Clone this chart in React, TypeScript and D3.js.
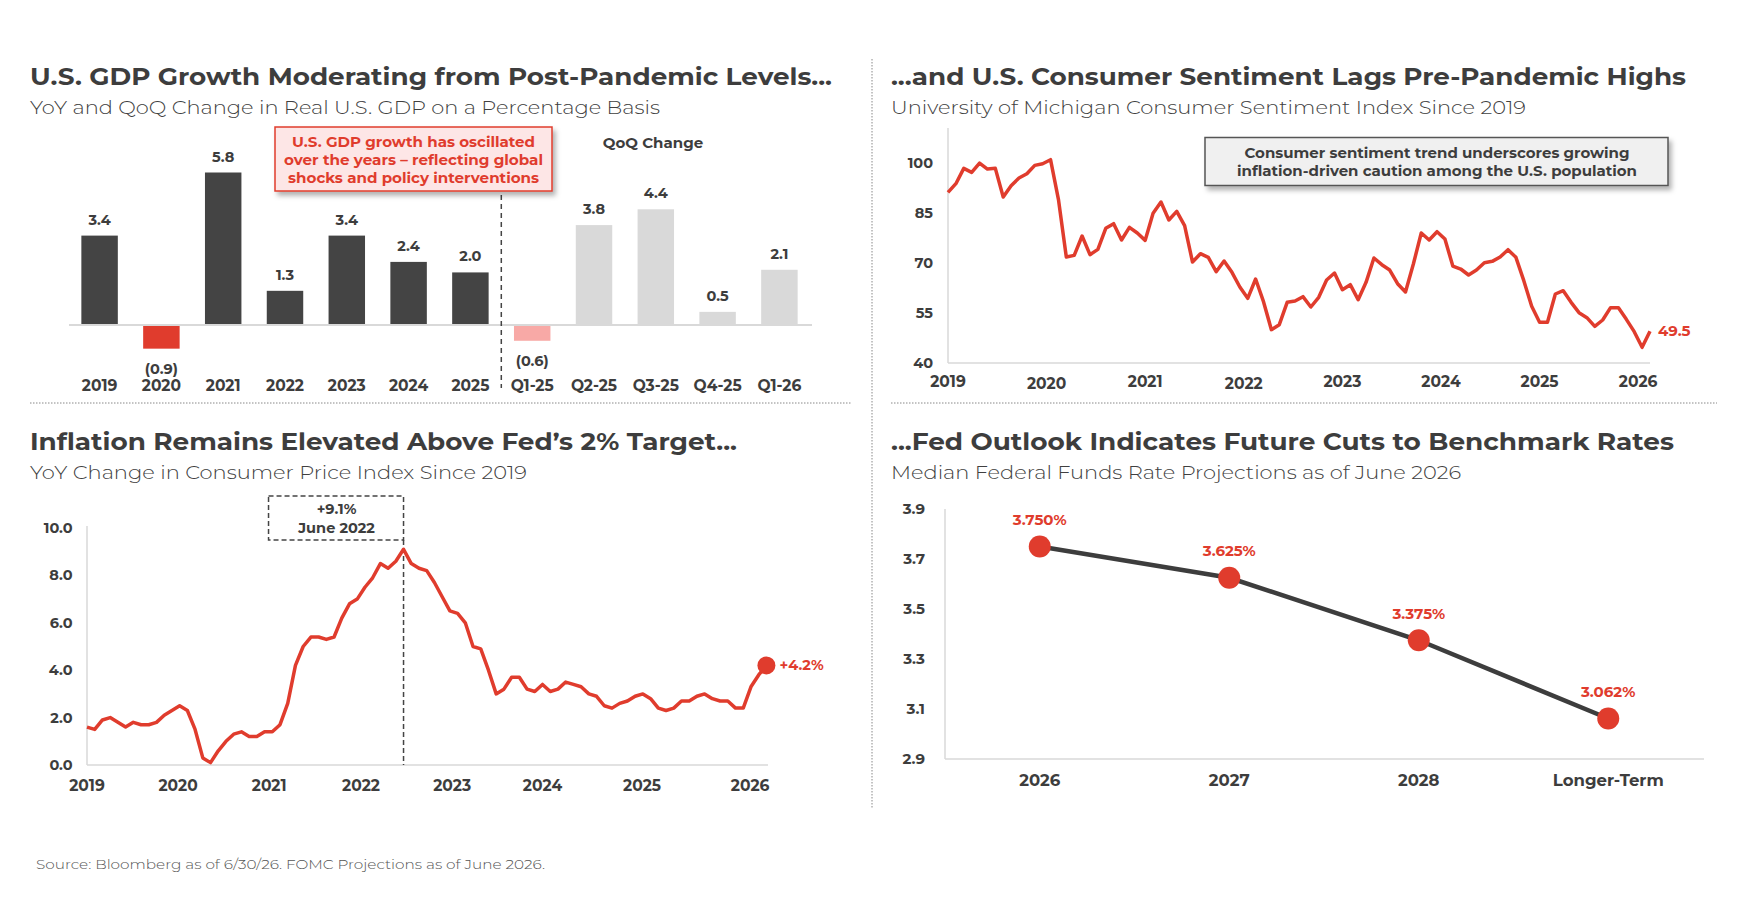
import * as d3 from 'd3';

const FONT = "Montserrat, Inter, 'Open Sans', sans-serif";
const RED = '#e03c2d';
const INK = '#3d3d3d';
const AXIS = '#d9d9d9';

// ---- GDP panel data
const gdpCategories = ['2019', '2020', '2021', '2022', '2023', '2024', '2025', 'Q1-25', 'Q2-25', 'Q3-25', 'Q4-25', 'Q1-26'];
const gdpValues = [3.4, -0.9, 5.8, 1.3, 3.4, 2.4, 2.0, -0.6, 3.8, 4.4, 0.5, 2.1];
const gdpKind = ['YoY', 'YoY', 'YoY', 'YoY', 'YoY', 'YoY', 'YoY', 'QoQ', 'QoQ', 'QoQ', 'QoQ', 'QoQ'];
const gdpNote = ['U.S. GDP growth has oscillated', 'over the years – reflecting global', 'shocks and policy interventions'];

// ---- Consumer sentiment, monthly Jan 2019 .. Jun 2026
const sentimentValues = [
  91.2, 93.8, 98.4, 97.2, 100.0, 98.2, 98.4, 89.8, 93.2, 95.5, 96.8, 99.3,
  99.8, 101.0, 89.1, 71.8, 72.3, 78.1, 72.5, 74.1, 80.4, 81.8, 76.9, 80.7,
  79.0, 76.8, 84.9, 88.3, 82.9, 85.5, 81.2, 70.3, 72.8, 71.7, 67.4, 70.6,
  67.2, 62.8, 59.4, 65.2, 58.4, 50.0, 51.5, 58.2, 58.6, 59.9, 56.8, 59.7,
  64.9, 67.0, 62.0, 63.5, 59.0, 64.2, 71.5, 69.5, 67.9, 63.8, 61.3, 69.7,
  79.0, 76.9, 79.4, 77.2, 69.1, 68.2, 66.4, 67.9, 70.1, 70.5, 71.8, 74.0,
  71.7, 64.7, 57.0, 52.2, 52.2, 60.7, 61.7, 58.2, 55.1, 53.6, 51.0, 52.9,
  56.6, 56.6, 53.1, 49.4, 44.7, 49.5,
];
const sentimentYears = ['2019', '2020', '2021', '2022', '2023', '2024', '2025', '2026'];
const sentimentTicks = [40, 55, 70, 85, 100];
const sentimentNote = ['Consumer sentiment trend underscores growing', 'inflation-driven caution among the U.S. population'];

// ---- CPI YoY, monthly Jan 2019 .. May 2026
const cpiValues = [
  1.6, 1.5, 1.9, 2.0, 1.8, 1.6, 1.8, 1.7, 1.7, 1.8, 2.1, 2.3,
  2.5, 2.3, 1.5, 0.3, 0.1, 0.6, 1.0, 1.3, 1.4, 1.2, 1.2, 1.4,
  1.4, 1.7, 2.6, 4.2, 5.0, 5.4, 5.4, 5.3, 5.4, 6.2, 6.8, 7.0,
  7.5, 7.9, 8.5, 8.3, 8.6, 9.1, 8.5, 8.3, 8.2, 7.7, 7.1, 6.5,
  6.4, 6.0, 5.0, 4.9, 4.0, 3.0, 3.2, 3.7, 3.7, 3.2, 3.1, 3.4,
  3.1, 3.2, 3.5, 3.4, 3.3, 3.0, 2.9, 2.5, 2.4, 2.6, 2.7, 2.9,
  3.0, 2.8, 2.4, 2.3, 2.4, 2.7, 2.7, 2.9, 3.0, 2.8, 2.7, 2.7,
  2.4, 2.4, 3.3, 3.8, 4.2,
];
const cpiYears = ['2019', '2020', '2021', '2022', '2023', '2024', '2025', '2026'];
// month index (from Jan 2019) under which each year label sits
const cpiYearAt = [0, 11.8, 23.6, 35.5, 47.3, 59, 71.9, 85.9];
const cpiTicks = [0, 2, 4, 6, 8, 10];
const cpiPeakLabel = ['+9.1%', 'June 2022'];
const cpiLastLabel = '+4.2%';

// ---- Fed dot plot medians
const fedCategories = ['2026', '2027', '2028', 'Longer-Term'];
const fedValues = [3.75, 3.625, 3.375, 3.062];
const fedTicks = [2.9, 3.1, 3.3, 3.5, 3.7, 3.9];

const titles = [
  { text: 'U.S. GDP Growth Moderating from Post-Pandemic Levels...', sub: 'YoY and QoQ Change in Real U.S. GDP on a Percentage Basis' },
  { text: '...and U.S. Consumer Sentiment Lags Pre-Pandemic Highs', sub: 'University of Michigan Consumer Sentiment Index Since 2019' },
  { text: 'Inflation Remains Elevated Above Fed’s 2% Target...', sub: 'YoY Change in Consumer Price Index Since 2019' },
  { text: '...Fed Outlook Indicates Future Cuts to Benchmark Rates', sub: 'Median Federal Funds Rate Projections as of June 2026' },
];
const sourceText = 'Source: Bloomberg as of 6/30/26. FOMC Projections as of June 2026.';

const lbl = { fontFamily: FONT, fontWeight: 700, fontSize: 14.5, fill: INK } as const;
const axl = { ...lbl, fontSize: 15.5 } as const;

function Heading({ x, y, t, w, sw }: { x: number; y: number; t: { text: string; sub: string }; w: number; sw: number }) {
  return (
    <g>
      <text x={x} y={y} fontFamily={FONT} fontWeight={700} fontSize={24} fill={INK}
        textLength={w} lengthAdjust="spacingAndGlyphs">{t.text}</text>
      <text x={x} y={y + 29} fontFamily={FONT} fontWeight={300} fontSize={18.5} fill="#404040"
        textLength={sw} lengthAdjust="spacingAndGlyphs">{t.sub}</text>
    </g>
  );
}

function GdpPanel() {
  const x = d3.scaleBand<string>().domain(gdpCategories).range([69, 810]).paddingInner(0.41).paddingOuter(0.2);
  const y = d3.scaleLinear().domain([0, 5.8]).range([325, 172.5]);
  const color = (v: number, k: string) =>
    k === 'YoY' ? (v < 0 ? RED : '#444444') : v < 0 ? '#f8a9a6' : '#d9d9d9';
  const fmt = (v: number) => (v < 0 ? `(${Math.abs(v).toFixed(1)})` : v.toFixed(1));
  const splitX = (x(gdpCategories[6])! + x.bandwidth() + x(gdpCategories[7])!) / 2;
  return (
    <g>
      {gdpValues.map((v, i) => {
        const c = gdpCategories[i];
        const cx = x(c)! + x.bandwidth() / 2;
        return (
          <g key={c}>
            <rect x={x(c)} width={x.bandwidth()} y={Math.min(y(v), y(0))} height={Math.abs(y(v) - y(0))}
              fill={color(v, gdpKind[i])} />
            <text {...lbl} x={cx} y={v >= 0 ? y(v) - 11 : y(v) + 25} textAnchor="middle">{fmt(v)}</text>
            <text {...axl} x={cx} y={390.5} textAnchor="middle">{c}</text>
          </g>
        );
      })}
      <line x1={69} x2={812} y1={y(0)} y2={y(0)} stroke={AXIS} strokeWidth={2} />
      <line x1={splitX} x2={splitX} y1={195} y2={388} stroke="#444" strokeWidth={1.5} strokeDasharray="5,4" />
      <text {...lbl} fontSize={15} x={653} y={148} textAnchor="middle">QoQ Change</text>
      <rect x={275} y={127} width={277} height={64} fill="#fde6e6" stroke={RED} strokeWidth={1.5} filter="url(#shadow)" />
      {gdpNote.map((s, i) => (
        <text key={i} {...lbl} fill={RED} x={413.5} y={146.5 + i * 18} textAnchor="middle"
          textLength={[243, 259, 251][i]} lengthAdjust="spacingAndGlyphs">{s}</text>
      ))}
    </g>
  );
}

function SentimentPanel() {
  const x = d3.scaleLinear().domain([0, sentimentValues.length - 1]).range([948, 1650]);
  const y = d3.scaleLinear().domain([40, 110]).range([363, 129.7]);
  const line = d3.line<number>().x((_, i) => x(i)).y(d => y(d));
  const last = sentimentValues[sentimentValues.length - 1];
  return (
    <g>
      <line x1={948} x2={948} y1={128} y2={363} stroke={AXIS} strokeWidth={1.5} />
      <line x1={948} x2={1650} y1={363} y2={363} stroke={AXIS} strokeWidth={1.5} />
      {sentimentTicks.map(t => (
        <text key={t} {...lbl} x={933} y={y(t) + 5} textAnchor="end">{t}</text>
      ))}
      {sentimentYears.map((s, i) => (
        <text key={s} {...axl} x={x(i * 12.5)} y={i % 2 === 1 && i < 4 ? 388.5 : 387} textAnchor="middle">{s}</text>
      ))}
      <path d={line(sentimentValues)!} fill="none" stroke={RED} strokeWidth={3.5} strokeLinejoin="round" />
      <text {...lbl} fontSize={15} fill={RED} x={x(sentimentValues.length - 1) + 8} y={y(last) + 5}>{last.toFixed(1)}</text>
      <rect x={1205} y={137.5} width={463} height={48} fill="#f0f0f0" stroke="#555" strokeWidth={1.5} filter="url(#shadow)" />
      {sentimentNote.map((s, i) => (
        <text key={i} {...lbl} x={1437} y={158.3 + i * 17.5} textAnchor="middle"
          textLength={[385, 400][i]} lengthAdjust="spacingAndGlyphs">{s}</text>
      ))}
    </g>
  );
}

function CpiPanel() {
  const x = d3.scaleLinear().domain([0, cpiValues.length - 1]).range([87, 766.4]);
  const y = d3.scaleLinear().domain([0, 10]).range([765, 528]);
  const line = d3.line<number>().x((_, i) => x(i)).y(d => y(d));
  const peakI = d3.maxIndex(cpiValues);
  const px = x(peakI);
  const li = cpiValues.length - 1;
  return (
    <g>
      <line x1={87} x2={87} y1={526} y2={765} stroke={AXIS} strokeWidth={1.5} />
      <line x1={87} x2={768} y1={765} y2={765} stroke={AXIS} strokeWidth={1.5} />
      {cpiTicks.map(t => (
        <text key={t} {...lbl} x={72.5} y={y(t) + 5} textAnchor="end">{t.toFixed(1)}</text>
      ))}
      {cpiYears.map((s, i) => (
        <text key={s} {...axl} x={x(cpiYearAt[i])} y={791} textAnchor="middle">{s}</text>
      ))}
      <line x1={px} x2={px} y1={540} y2={765} stroke="#444" strokeWidth={1.5} strokeDasharray="5,3" />
      <rect x={px - 135} y={496} width={135} height={44} fill="none" stroke="#444" strokeWidth={1.5} strokeDasharray="5,3" />
      {cpiPeakLabel.map((s, i) => (
        <text key={i} {...lbl} fontSize={14.5} x={px - 67} y={514 + i * 18.5} textAnchor="middle">{s}</text>
      ))}
      <path d={line(cpiValues)!} fill="none" stroke={RED} strokeWidth={3.5} strokeLinejoin="round" />
      <circle cx={x(li)} cy={y(cpiValues[li])} r={9} fill={RED} />
      <text {...lbl} fill={RED} x={x(li) + 13} y={y(cpiValues[li]) + 5}>{cpiLastLabel}</text>
    </g>
  );
}

function FedPanel() {
  const x = d3.scaleBand<string>().domain(fedCategories).range([945, 1703]);
  const y = d3.scaleLinear().domain([2.9, 3.9]).range([759, 509]);
  const cx = (c: string) => x(c)! + x.bandwidth() / 2;
  const line = d3.line<number>().x((_, i) => cx(fedCategories[i])).y(d => y(d));
  return (
    <g>
      <line x1={945} x2={945} y1={509} y2={759} stroke={AXIS} strokeWidth={1.5} />
      <line x1={945} x2={1704} y1={759} y2={759} stroke={AXIS} strokeWidth={1.5} />
      {fedTicks.map(t => (
        <text key={t} {...lbl} fontSize={15} x={925} y={y(t) + 5} textAnchor="end">{t.toFixed(1)}</text>
      ))}
      {fedCategories.map(c => (
        <text key={c} {...lbl} fontSize={16.5} x={cx(c)} y={786} textAnchor="middle">{c}</text>
      ))}
      <path d={line(fedValues)!} fill="none" stroke="#3d3d3d" strokeWidth={4.5} />
      {fedValues.map((v, i) => (
        <g key={i}>
          <circle cx={cx(fedCategories[i])} cy={y(v)} r={11} fill={RED} />
          <text {...lbl} fontSize={15} fill={RED} x={cx(fedCategories[i])} y={y(v) - 21.5} textAnchor="middle">
            {v.toFixed(3)}%
          </text>
        </g>
      ))}
    </g>
  );
}

export default function App() {
  return (
    <svg width={1750} height={912} viewBox="0 0 1750 912"
      style={{ position: 'absolute', left: 0, top: 0, background: '#fff' }}>
      <defs>
        <filter id="shadow" x="-10%" y="-20%" width="130%" height="160%">
          <feDropShadow dx={3} dy={4} stdDeviation={2.5} floodColor="#000" floodOpacity={0.3} />
        </filter>
      </defs>
      <rect width={1750} height={912} fill="#fff" />
      <Heading x={30} y={85} t={titles[0]} w={802} sw={630} />
      <Heading x={891} y={85} t={titles[1]} w={795} sw={635} />
      <Heading x={30} y={449.5} t={titles[2]} w={707} sw={497} />
      <Heading x={891} y={449.5} t={titles[3]} w={783} sw={570} />
      <line x1={872} x2={872} y1={59} y2={809} stroke="#888" strokeWidth={1} strokeDasharray="1.5,1.5" />
      <line x1={30} x2={852} y1={403} y2={403} stroke="#888" strokeWidth={1} strokeDasharray="1.5,1.5" />
      <line x1={891} x2={1717} y1={403} y2={403} stroke="#888" strokeWidth={1} strokeDasharray="1.5,1.5" />
      <GdpPanel />
      <SentimentPanel />
      <CpiPanel />
      <FedPanel />
      <text x={36} y={869} fontFamily={FONT} fontWeight={300} fontSize={14} fill="#555"
        textLength={509} lengthAdjust="spacingAndGlyphs">{sourceText}</text>
    </svg>
  );
}
